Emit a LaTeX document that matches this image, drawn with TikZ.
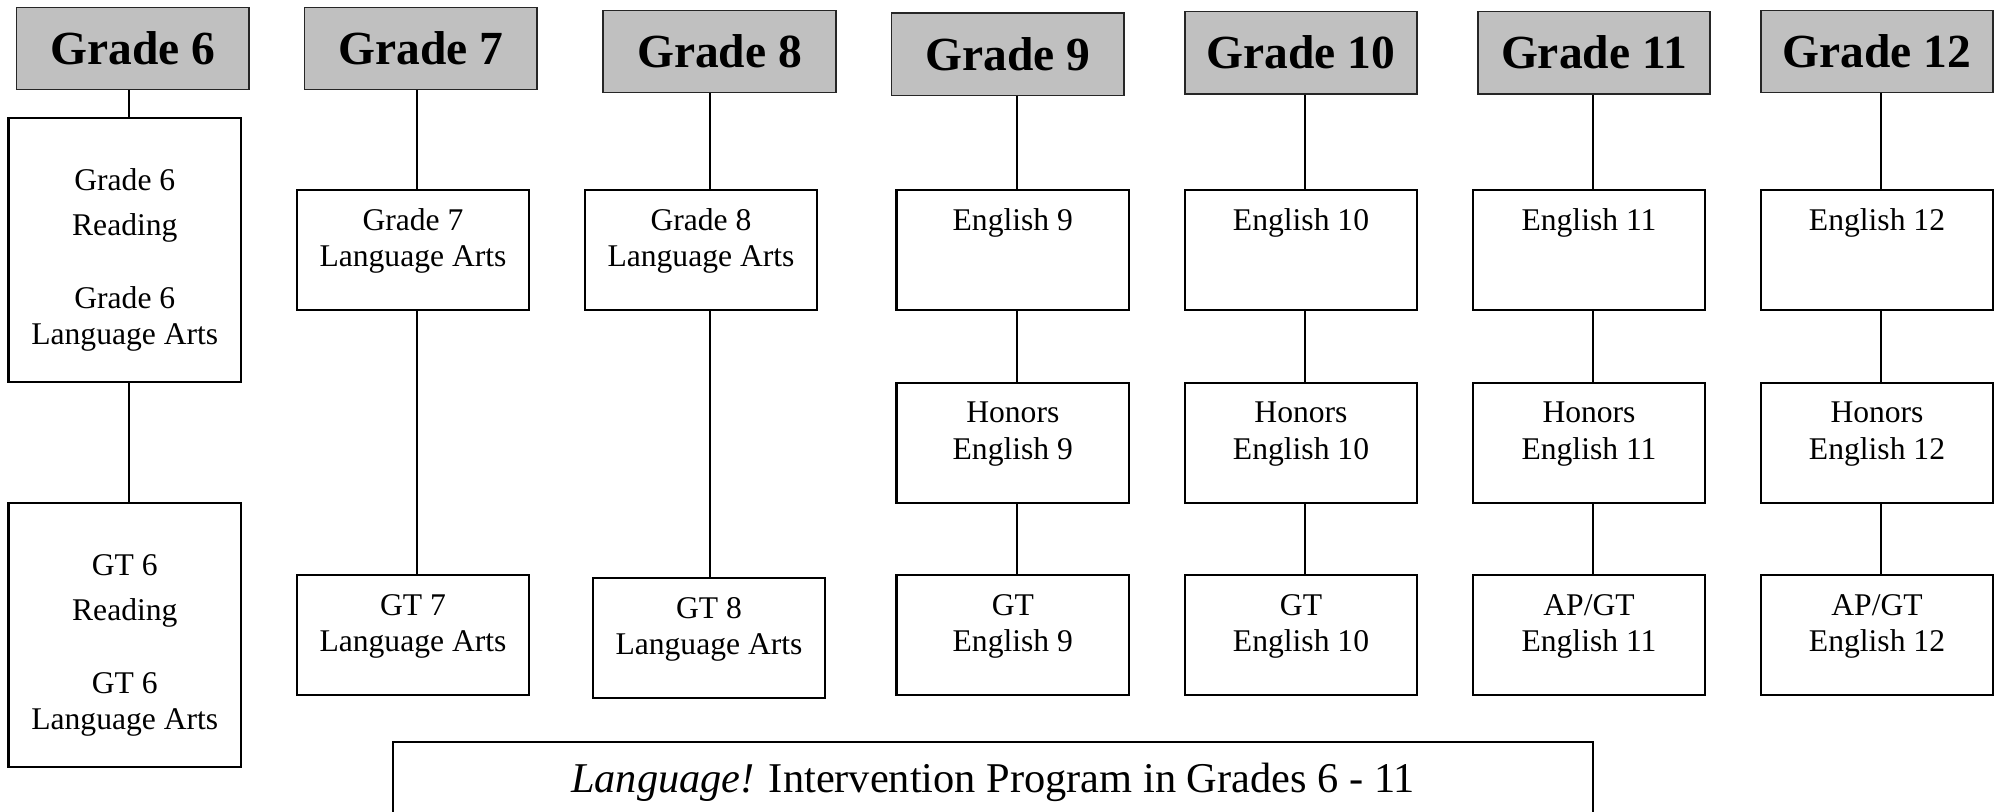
\documentclass[tikz,border=0pt]{standalone}
\usepackage{fontspec}
\setmainfont{Liberation Serif}
\definecolor{hdrgray}{HTML}{C0C0C0}
\newcommand{\bxt}[3]{\begin{minipage}[c][#1][t]{116.25pt}\centering\rule{0pt}{#2}#3\end{minipage}}
\begin{document}
\begin{tikzpicture}[x=0.5pt,y=-0.5pt,
  hdr/.style={draw=black!85, line width=0.8pt, fill=hdrgray, inner sep=0pt,
    minimum width=116.25pt, minimum height=41.15pt,
    font=\bfseries\fontsize{23.75pt}{28pt}\selectfont},
  crs/.style={draw, line width=1.1pt, inner sep=0pt,
    font=\fontsize{15.8pt}{18.25pt}\selectfont},
  conn/.style={line width=0.7pt}]
\useasboundingbox (0,0) rectangle (2000,811);
\clip (0,0) rectangle (2000,811);
% headers
\node[hdr] (h6)  at (132.8,48.5)  {Grade 6};
\node[hdr] (h7)  at (420.8,48.5)  {Grade 7};
\node[hdr] (h8)  at (719.5,51.5)  {Grade 8};
\node[hdr] (h9)  at (1007.7,54.2) {Grade 9};
\node[hdr] (h10) at (1301,52.6)   {Grade 10};
\node[hdr] (h11) at (1594,52.6)   {Grade 11};
\node[hdr] (h12) at (1877,51.5)   {Grade 12};
% grade 6
\node[crs] (b6a) at (124.8,250) {\bxt{132pt}{36pt}{Grade 6\\[4.25pt]Reading\\[18.25pt]Grade 6\\Language Arts}};
\node[crs] (b6b) at (124.8,635) {\bxt{132pt}{36pt}{GT 6\\[4.25pt]Reading\\[18.25pt]GT 6\\Language Arts}};
% grade 7
\node[crs] (b7a) at (413,250) {\bxt{60pt}{20pt}{Grade 7\\Language Arts}};
\node[crs] (b7c) at (413,635) {\bxt{60pt}{20pt}{GT 7\\Language Arts}};
% grade 8
\node[crs] (b8a) at (701,250) {\bxt{60pt}{20pt}{Grade 8\\Language Arts}};
\node[crs] (b8c) at (709,638) {\bxt{60pt}{20pt}{GT 8\\Language Arts}};
% grade 9
\node[crs] (b9a) at (1012.8,250)   {\bxt{60pt}{20pt}{English 9}};
\node[crs] (b9b) at (1012.8,442.8) {\bxt{60pt}{20pt}{Honors\\English 9}};
\node[crs] (b9c) at (1012.8,635)   {\bxt{60pt}{20pt}{GT\\English 9}};
% grade 10
\node[crs] (b10a) at (1301,250)   {\bxt{60pt}{20pt}{English 10}};
\node[crs] (b10b) at (1301,442.8) {\bxt{60pt}{20pt}{Honors\\English 10}};
\node[crs] (b10c) at (1301,635)   {\bxt{60pt}{20pt}{GT\\English 10}};
% grade 11
\node[crs] (b11a) at (1589,250)   {\bxt{60pt}{20pt}{English 11}};
\node[crs] (b11b) at (1589,442.8) {\bxt{60pt}{20pt}{Honors\\English 11}};
\node[crs] (b11c) at (1589,635)   {\bxt{60pt}{20pt}{AP/GT\\English 11}};
% grade 12
\node[crs] (b12a) at (1877,250)   {\bxt{60pt}{20pt}{English 12}};
\node[crs] (b12b) at (1877,442.8) {\bxt{60pt}{20pt}{Honors\\English 12}};
\node[crs] (b12c) at (1877,635)   {\bxt{60pt}{20pt}{AP/GT\\English 12}};
% bottom
\node[crs, minimum width=600pt, minimum height=40pt,
  font=\fontsize{21.2pt}{25pt}\selectfont] (lp) at (993,782)
  {\textit{Language!} Intervention Program in Grades 6 - 11};
% connector columns
\coordinate (x6) at (129,0);
\coordinate (x7) at (417,0);
\coordinate (x8) at (710,0);
\coordinate (x9) at (1017,0);
\coordinate (x10) at (1305,0);
\coordinate (x11) at (1593,0);
\coordinate (x12) at (1881,0);
\draw[conn] (h6.south -| x6) -- (b6a.north -| x6);
\draw[conn] (b6a.south -| x6) -- (b6b.north -| x6);
\draw[conn] (h7.south -| x7) -- (b7a.north -| x7);
\draw[conn] (b7a.south -| x7) -- (b7c.north -| x7);
\draw[conn] (h8.south -| x8) -- (b8a.north -| x8);
\draw[conn] (b8a.south -| x8) -- (b8c.north -| x8);
\foreach \g in {9,10,11,12}{
  \draw[conn] (h\g.south -| x\g) -- (b\g a.north -| x\g);
  \draw[conn] (b\g a.south -| x\g) -- (b\g b.north -| x\g);
  \draw[conn] (b\g b.south -| x\g) -- (b\g c.north -| x\g);
}
\end{tikzpicture}
\end{document}
